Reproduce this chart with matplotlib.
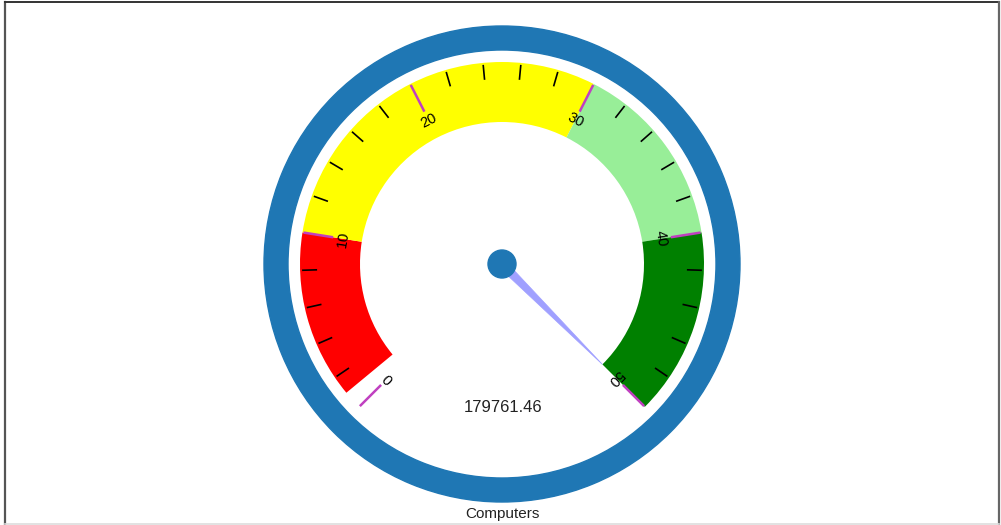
import numpy as np
import matplotlib
matplotlib.use("Agg")
import matplotlib.pyplot as plt
from matplotlib.patches import Wedge, Circle, Polygon

# ---- data ----
gauge_min = 0
gauge_max = 50
major_step = 10
minor_step = 2
band_starts = [1, 10, 30, 40]
band_ends = [10, 30, 40, 50]
band_colors = ["#ff0000", "#ffff00", "#98ee98", "#008000"]
value = 179761.46
value_label = "179761.46"
title = "Computers"

# ---- geometry / style ----
W, H = 1001, 525
cx, cy = 502, H - 264
start_ang, end_ang = 225.0, -45.0
ring_r, ring_w = 238, 24
band_r, band_w = 202, 60
major_r0, major_r1 = 171, 201
minor_r0, minor_r1 = 185, 200
label_r = 161
needle_len = 142

plt.rcParams['font.family'] = ['Liberation Sans', 'DejaVu Sans']
fig = plt.figure(figsize=(W / 100, H / 100), dpi=100)
ax = fig.add_axes([0, 0, 1, 1])
ax.set_xlim(0, W)
ax.set_ylim(0, H)
ax.axis('off')


def ang(v):
    v = min(max(v, gauge_min), gauge_max)
    return start_ang + (end_ang - start_ang) * (v - gauge_min) / (gauge_max - gauge_min)


def pt(a, r):
    t = np.deg2rad(a)
    return cx + r * np.cos(t), cy + r * np.sin(t)


# outer ring
ax.add_patch(Wedge((cx, cy), ring_r, 0, 360, width=ring_w, color="#1f77b4", zorder=1))

# bands
for s, e, c in zip(band_starts, band_ends, band_colors):
    ax.add_patch(Wedge((cx, cy), band_r, ang(e), ang(s), width=band_w,
                       facecolor=c, edgecolor='none', zorder=2))

# minor ticks
for v in np.arange(gauge_min, gauge_max + 0.001, minor_step):
    if abs(v % major_step) < 1e-9:
        continue
    a = ang(v)
    x0, y0 = pt(a, minor_r0)
    x1, y1 = pt(a, minor_r1)
    ax.plot([x0, x1], [y0, y1], color='black', lw=1.2, zorder=3, solid_capstyle='butt')

# major ticks and labels
for v in np.arange(gauge_min, gauge_max + 0.001, major_step):
    a = ang(v)
    x0, y0 = pt(a, major_r0)
    x1, y1 = pt(a, major_r1)
    ax.plot([x0, x1], [y0, y1], color='#c040c0', lw=1.8, zorder=3, solid_capstyle='butt')
    lx, ly = pt(a, label_r)
    ax.text(lx, ly, f"{int(v)}", rotation=a - 90, rotation_mode='anchor',
            ha='center', va='center', fontsize=10.5, color='black', zorder=4)

# needle
na = ang(value)
b1 = pt(na + 90, 4.5)
b2 = pt(na - 90, 4.5)
t1 = pt(na, needle_len)
ax.add_patch(Polygon([b1, t1, b2], closed=True, facecolor='#a0a0ff',
                     edgecolor='#a0a0ff', lw=0.5, zorder=5))
ax.add_patch(Circle((cx, cy), 14, color='#1f77b4', zorder=6))

# texts
ax.text(cx + 1, H - 407, value_label, ha='center', va='center', fontsize=12, color='#222222')
ax.text(cx, H - 514, title, ha='center', va='center', fontsize=11, color='#222222')

# frame
ax.plot([4.5, 4.5], [0, H - 2], color='#555555', lw=1.6, zorder=10)
ax.plot([4.5, 998.5], [H - 2, H - 2], color='#333333', lw=1.4, zorder=10)
ax.plot([998.5, 998.5], [0, H - 2], color='#666666', lw=1.6, zorder=10)
ax.plot([4.5, 998.5], [0.8, 0.8], color='#dddddd', lw=1.2, zorder=10)

fig.savefig("out.png", dpi=100)
